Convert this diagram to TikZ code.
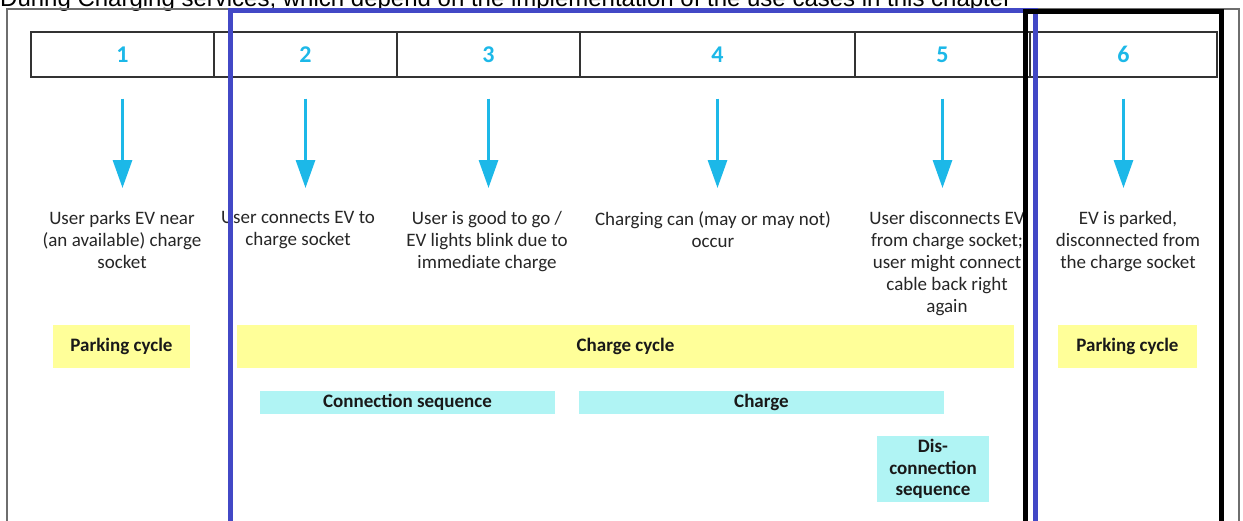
\documentclass[tikz,border=0pt]{standalone}
\usepackage{fontspec}
\setmainfont{Carlito}
\newfontfamily\headfont{Liberation Sans}
\usetikzlibrary{arrows.meta}

\definecolor{stepcyan}{RGB}{28,184,232}
\definecolor{cycleyellow}{RGB}{255,255,153}
\definecolor{seqcyan}{RGB}{176,244,244}
\definecolor{chargeblue}{RGB}{66,72,198}
\definecolor{framegray}{RGB}{110,110,110}
\definecolor{bodytext}{RGB}{38,38,38}

\tikzset{
  cell/.style={draw=black!80, line width=1.3pt, minimum height=45pt, inner sep=0pt,
    text=stepcyan, font=\bfseries\fontsize{24}{28}\selectfont},
  flow/.style={stepcyan, line width=3pt, -{Triangle[length=28pt,width=19pt]},
    shorten <=21pt, shorten >=23pt},
  desc/.style={anchor=north, inner sep=0pt, align=center, text=bodytext,
    font=\fontsize{19}{22}\selectfont},
  cyclebar/.style={fill=cycleyellow, minimum height=43pt, inner sep=0pt,
    font=\bfseries\fontsize{19}{22}\selectfont, text=black!90},
  seqbar/.style={fill=seqcyan, inner sep=0pt, align=center,
    font=\bfseries\fontsize{19}{21.5}\selectfont, text=black!90},
  outline/.style={line width=5pt, line join=miter},
}

\begin{document}
\begin{tikzpicture}[x=1pt,y=-1pt]
\useasboundingbox (0,0) rectangle (1243,520);
\clip (0,0) rectangle (1243,520);
\fill[white] (0,0) rectangle (1243,520);

% heading line, cut by the top edge
\node[anchor=base west, inner sep=0pt, font=\headfont\fontsize{24}{28}\selectfont]
  (title) at (0,6) {During Charging services, which depend on the implementation of the use cases in this chapter};

% outer frame
\draw[framegray, line width=1.5pt] (7,540) |- (1239,9) -- (1239,540);

% numbered steps
\node[cell, minimum width=183pt] (c1) at (122.5,54.5) {1};
\node[cell, minimum width=183pt] (c2) at (305.5,54.5) {2};
\node[cell, minimum width=183pt] (c3) at (488.5,54.5) {3};
\node[cell, minimum width=275pt] (c4) at (717.5,54.5) {4};
\node[cell, minimum width=175pt] (c5) at (942.5,54.5) {5};
\node[cell, minimum width=187pt] (c6) at (1123.5,54.5) {6};

% step descriptions
\node[desc] (t1) at (122,211) {User parks EV near\\(an available) charge\\socket};
\node[desc] (t2) at (298,211) {User connects EV to\\charge socket};
\node[desc] (t3) at (487,211) {User is good to go /\\EV lights blink due to\\immediate charge};
\node[desc] (t4) at (713,211) {Charging can (may or may not)\\occur};
\node[desc] (t5) at (947,211) {User disconnects EV\\from charge socket;\\user might connect\\cable back right\\again};
\node[desc] (t6) at (1128,211) {EV is parked,\\disconnected from\\the charge socket};

% arrows from each step to its description
\foreach \i in {1,...,6}
  \draw[flow] (c\i.south) -- (c\i.south |- t\i.north);

% cycles
\node[cyclebar, minimum width=137pt] (pc1) at (121.5,346.5) {Parking cycle};
\node[cyclebar, minimum width=777pt] (cc) at (625.5,346.5) {Charge cycle};
\node[cyclebar, minimum width=139pt] (pc2) at (1127.5,346.5) {Parking cycle};

% sequences
\node[seqbar, minimum width=295pt, minimum height=23pt] (cs) at (407.5,402.5) {Connection sequence};
\node[seqbar, minimum width=365pt, minimum height=23pt] (ch) at (761.5,402.5) {Charge};
\node[seqbar, minimum width=112pt, minimum height=66pt] (ds) at (933,469) {Dis-\\connection\\sequence};

% highlight frames
\draw[outline, chargeblue] (230,540) -- (230,10.5) -- (1035,10.5) -- (1035,540);
\draw[outline, black] (1025,540) -- (1025,11) -- (1221,11) -- (1221,540);
\end{tikzpicture}
\end{document}
